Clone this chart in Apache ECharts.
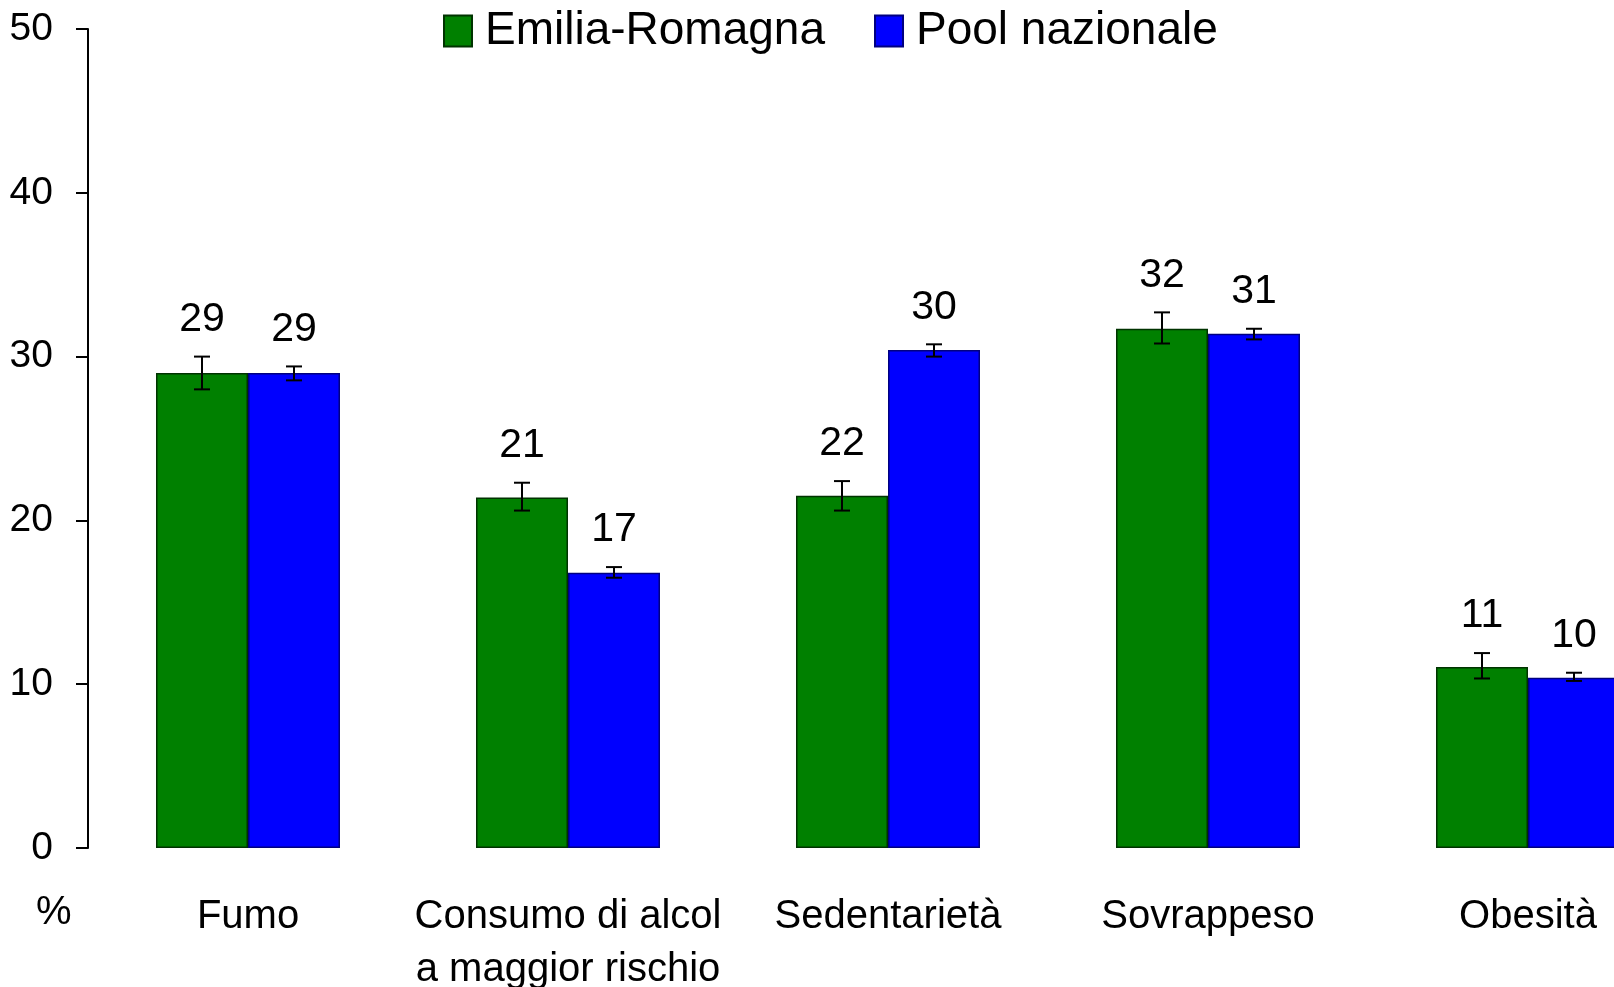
<!DOCTYPE html>
<html>
<head>
<meta charset="utf-8">
<title>Emilia-Romagna vs Pool nazionale</title>
<style>
  html, body { margin: 0; padding: 0; background: #fff; }
  #chart { width: 1614px; height: 987px; }
</style>
</head>
<body>
<div id="chart"></div>
<script src="https://cdn.jsdelivr.net/npm/echarts@6/dist/echarts.min.js"></script>
<script>
// categorie e valori (%)
var categories = ['Fumo', 'Consumo di alcol\na maggior rischio', 'Sedentarietà', 'Sovrappeso', 'Obesità'];
var emiliaValues = [29.0, 21.4, 21.5, 31.7, 11.05];
var emiliaLow = [28.0, 20.6, 20.6, 30.8, 10.35];
var emiliaHigh = [30.0, 22.3, 22.4, 32.7, 11.9];
var poolValues = [29.0, 16.8, 30.4, 31.4, 10.4];
var poolLow = [28.55, 16.5, 30.0, 31.05, 10.2];
var poolHigh = [29.4, 17.15, 30.75, 31.7, 10.7];

var FONT = '"Liberation Sans", Arial, sans-serif';
var BAR_W = 92;

var myChart = echarts.init(document.getElementById('chart'));

// barre di errore + etichetta del valore sopra
function errorSeries(values, low, high, side) {
    var data = [];
    for (var i = 0; i < values.length; i++) {
        data.push([i, low[i], high[i], values[i]]);
    }
    return {
        type: 'custom',
        z: 10,
        silent: true,
        encode: { x: 0, y: [1, 2] },
        data: data,
        renderItem: function (params, api) {
            var top = api.coord([api.value(0), api.value(2)]);
            var bot = api.coord([api.value(0), api.value(1)]);
            var x = top[0] + side * BAR_W / 2;
            var cap = 8;
            var st = { stroke: '#000', lineWidth: 2 };
            return {
                type: 'group',
                children: [
                    { type: 'line', shape: { x1: x, y1: top[1], x2: x, y2: bot[1] }, style: st },
                    { type: 'line', shape: { x1: x - cap, y1: top[1], x2: x + cap, y2: top[1] }, style: st },
                    { type: 'line', shape: { x1: x - cap, y1: bot[1], x2: x + cap, y2: bot[1] }, style: st },
                    {
                        type: 'text',
                        style: {
                            x: x, y: top[1] - 37,
                            text: String(Math.round(api.value(3))),
                            align: 'center', verticalAlign: 'middle',
                            fontSize: 41, fontFamily: FONT, fill: '#000'
                        }
                    }
                ]
            };
        }
    };
}

var option = {
    animation: false,
    backgroundColor: '#fff',
    title: {
        text: '%',
        left: 36,
        top: 889,
        padding: 0,
        textStyle: { fontSize: 40, fontWeight: 'normal', fontFamily: FONT, color: '#000', lineHeight: 48 }
    },
    legend: {
        data: ['Emilia-Romagna', 'Pool nazionale'],
        left: 443,
        top: 8,
        padding: 0,
        itemWidth: 28,
        itemHeight: 31,
        itemGap: 49,
        icon: 'rect',
        textStyle: { fontSize: 46, fontFamily: FONT, color: '#000', lineHeight: 46, padding: [0, 0, 0, 8] }
    },
    grid: {
        left: 88,
        top: 29,
        width: 1600,
        height: 819,
        outerBoundsMode: 'none'
    },
    xAxis: {
        type: 'category',
        data: categories,
        axisLine: { show: false },
        axisTick: { show: false },
        axisLabel: {
            margin: 42,
            fontSize: 40,
            lineHeight: 53,
            fontFamily: FONT,
            color: '#000',
            interval: 0
        }
    },
    yAxis: {
        type: 'value',
        min: 0,
        max: 50,
        interval: 10,
        splitLine: { show: false },
        axisLine: { show: true, lineStyle: { color: '#000', width: 2 } },
        axisTick: { show: true, length: 12, lineStyle: { color: '#000', width: 2 } },
        axisLabel: { margin: 35, fontSize: 39, fontFamily: FONT, color: '#000' }
    },
    series: [
        {
            name: 'Emilia-Romagna',
            type: 'bar',
            barWidth: BAR_W,
            barGap: '0%',
            itemStyle: { color: '#008000', borderColor: '#003300', borderWidth: 1.5 },
            data: emiliaValues
        },
        {
            name: 'Pool nazionale',
            type: 'bar',
            barWidth: BAR_W,
            barGap: '0%',
            itemStyle: { color: '#0000ff', borderColor: '#000080', borderWidth: 1.5 },
            data: poolValues
        },
        errorSeries(emiliaValues, emiliaLow, emiliaHigh, -1),
        errorSeries(poolValues, poolLow, poolHigh, 1)
    ]
};
myChart.setOption(option);
</script>
</body>
</html>
